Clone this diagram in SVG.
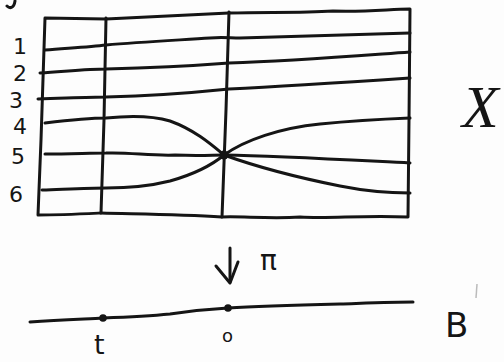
<svg xmlns="http://www.w3.org/2000/svg" width="504" height="362" viewBox="0 0 504 362">
<style>
.s{fill:none;stroke:#151515;stroke-width:3;stroke-linecap:round;stroke-linejoin:round}
.t{font-family:"DejaVu Sans","Liberation Sans",sans-serif;fill:#151515}
.x{font-family:"Liberation Serif","DejaVu Serif",serif;font-style:italic;fill:#151515}
</style>
<rect width="504" height="362" fill="#fdfdfd"/>
<path class="s" d="M7,6 C10,9 14,8 15,1"/>
<g id="box">
<path class="s" d="M45,18 L106,19 C150,17 190,15 229,13 C270,12 300,13 333,11 C370,12 390,9 410,9 L409,120 L408,217 C360,215 330,219 300,217 C270,219 240,216 222,217 C180,214 140,214 101,213 C80,214 60,215 38,215 L41,140 L45,18 Z"/>
<path class="s" d="M106,18 L104,120 L101,213"/>
<path class="s" d="M229,12 L226,110 L222,217"/>
</g>
<g id="fibres">
<path class="s" d="M45,50 C70,48 90,47 106,45 C140,42 180,40 210,38 C222,37 230,38 240,38 C300,36 360,34 410,33"/>
<path class="s" d="M40,73 C70,71 90,69 106,69 C150,68 190,66 229,63 C290,61 340,57 410,52"/>
<path class="s" d="M38,99 C70,98 90,97 106,97 C150,96 190,93 229,89 C290,86 350,82 410,78"/>
<path class="s" d="M45,123 C70,120 90,118 106,118 C125,116 150,115 170,121 C195,130 212,145 224,155"/>
<path class="s" d="M224,155 C245,140 280,128 320,124 C360,120 385,119 410,118"/>
<path class="s" d="M45,154 C70,154 90,153 106,153 C130,152 150,156 175,155 C200,156 212,155 224,155 C280,156 350,160 410,163"/>
<path class="s" d="M42,190 C70,189 90,188 106,188 C130,188 150,186 170,181 C195,174 212,165 224,155"/>
<path class="s" d="M224,155 C260,168 300,178 340,186 C370,192 390,193 410,193"/>
<circle cx="224" cy="155" r="4.5" fill="#151515"/>
</g>
<g id="labels" class="t" font-size="22">
<text x="13" y="54">1</text>
<text x="13" y="81">2</text>
<text x="9" y="108">3</text>
<text x="13" y="134">4</text>
<text x="11" y="164">5</text>
<text x="9" y="202">6</text>
</g>
<text class="x" x="462" y="127" font-size="60">X</text>
<g id="arrow">
<path class="s" d="M230,248 L230,282"/>
<path class="s" d="M216,266 L230,283 L238,262"/>
</g>
<text class="t" x="260" y="270" font-size="28">π</text>
<g id="base">
<path class="s" d="M30,322 C60,320 85,319 103,318 C130,317 150,316 170,314 C190,311 210,309 228,308 C260,306 300,305 340,304 C370,303 395,302 413,302"/>
<circle cx="103" cy="318" r="3.8" fill="#151515"/>
<circle cx="228" cy="308" r="3.8" fill="#151515"/>
</g>
<text class="t" x="94" y="354" font-size="27">t</text>
<text class="t" x="222" y="342" font-size="18">o</text>
<text class="t" x="445" y="337" font-size="34">B</text>
<path d="M477,284 L476,298" stroke="#bbb" stroke-width="1.5" fill="none"/>
</svg>
